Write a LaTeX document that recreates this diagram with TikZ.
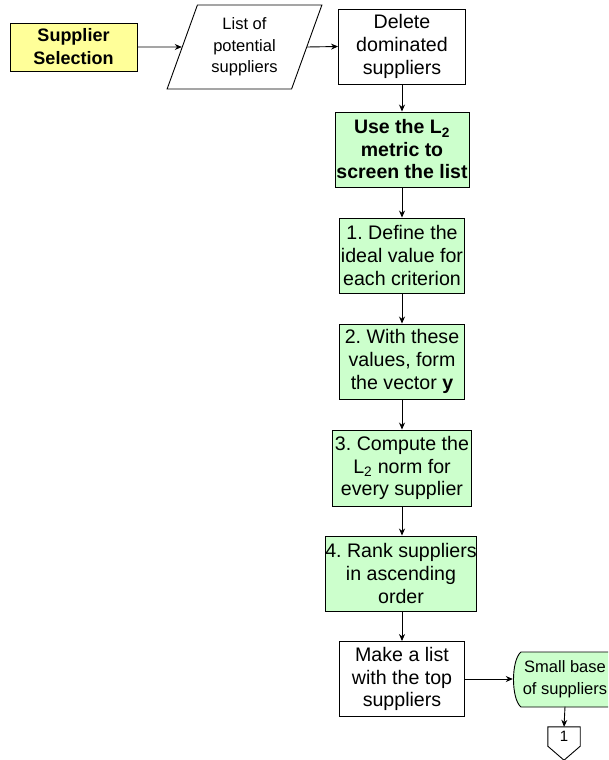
\documentclass[tikz,border=0pt]{standalone}
\usepackage{fontspec}
\setmainfont{Liberation Sans}
\usetikzlibrary{arrows.meta,shapes.geometric}
\definecolor{boxyellow}{HTML}{FFFF99}
\definecolor{boxgreen}{HTML}{CCFFCC}
\frenchspacing
\tikzset{
  flowbox/.style={draw=black, line width=0.9pt, rectangle, align=center, inner sep=0pt,
    font=\fontsize{19.6}{22.8}\selectfont},
  greenbox/.style={flowbox, fill=boxgreen},
  smalltext/.style={font=\fontsize{16.5}{21.5}\selectfont, align=center, inner sep=0pt},
  flowarrow/.style={draw=black, line width=0.9pt, -{Stealth[length=7pt,width=6pt]}},
  outline/.style={draw=black, line width=0.9pt}
}
\begin{document}
\begin{tikzpicture}[x=1pt,y=-1pt]
\useasboundingbox (0,0) rectangle (608,760);
\clip (0,0) rectangle (608,760);
\fill[white] (0,0) rectangle (608,760);

% start box
\node[flowbox, fill=boxyellow, minimum width=127pt, minimum height=48pt,
  font=\fontsize{18}{23}\selectfont\bfseries] (sel) at (73.5,47) {Supplier\\Selection};

% input/output parallelogram
\node[trapezium, trapezium left angle=70, trapezium right angle=110, trapezium stretches=true,
  draw=black, line width=0.9pt, minimum width=155pt, minimum height=84pt, inner sep=0pt,
  smalltext] (list) at (244.5,47) {List of\\potential\\suppliers};

\node[flowbox, fill=white, minimum width=127pt, minimum height=75pt] (del) at (402,46.5)
  {Delete\\dominated\\suppliers};

\node[greenbox, minimum width=134pt, minimum height=75pt, font=\fontsize{19.5}{22.5}\selectfont\bfseries]
  (use) at (402,149.5) {Use the L\textsubscript{2}\\metric to\\screen the list};

\node[greenbox, minimum width=125pt, minimum height=75pt] (def) at (402,255.5)
  {1. Define the\\ideal value for\\each criterion};

\node[greenbox, minimum width=125pt, minimum height=75pt] (with) at (402,361.5)
  {2. With these\\values, form\\the vector \textbf{y}};

\node[greenbox, minimum width=139pt, minimum height=76pt] (comp) at (402,468)
  {3. Compute the\\L\textsubscript{2} norm for\\every supplier};

\node[greenbox, minimum width=150pt, minimum height=75pt] (rank) at (401,573.5)
  {4. Rank suppliers\\in ascending\\order};

\node[flowbox, fill=white, minimum width=125pt, minimum height=75pt] (make) at (402,679)
  {Make a list\\with the top\\suppliers};

% stored data shape
\path[fill=boxgreen] (521,652) -- (617,652) .. controls (607,660) and (607,699) .. (617,707)
  -- (521,707) .. controls (511,699) and (511,660) .. (521,652) -- cycle;
\draw[outline] (617,707) -- (521,707) .. controls (511,699) and (511,660) .. (521,652) -- (617,652);
\node[smalltext, minimum width=104pt, minimum height=55pt] (small) at (565,679)
  {Small base\\of suppliers};

% off-page connector
\node[inner sep=0pt, minimum width=32pt, minimum height=19pt,
  font=\fontsize{15}{18}\selectfont] (pent) at (564,736.5) {1};
\draw[outline] (pent.north west) -- (pent.north east) -- (pent.south east)
  -- ([yshift=-14pt]pent.south) -- (pent.south west) -- cycle;

% connectors
\draw[flowarrow] (sel.east) -- (list.west);
\draw[flowarrow] (list.east) -- (del.west);
\draw[flowarrow] (del.south) -- (use.north);
\draw[flowarrow] (use.south) -- (def.north);
\draw[flowarrow] (def.south) -- (with.north);
\draw[flowarrow] (with.south) -- (comp.north);
\draw[flowarrow] (comp.south) -- (rank.north -| comp.south);
\draw[flowarrow] (rank.south -| make.north) -- (make.north);
\draw[flowarrow] (make.east) -- (small.west);
\draw[flowarrow] (small.south) -- (pent.north);
\end{tikzpicture}
\end{document}
